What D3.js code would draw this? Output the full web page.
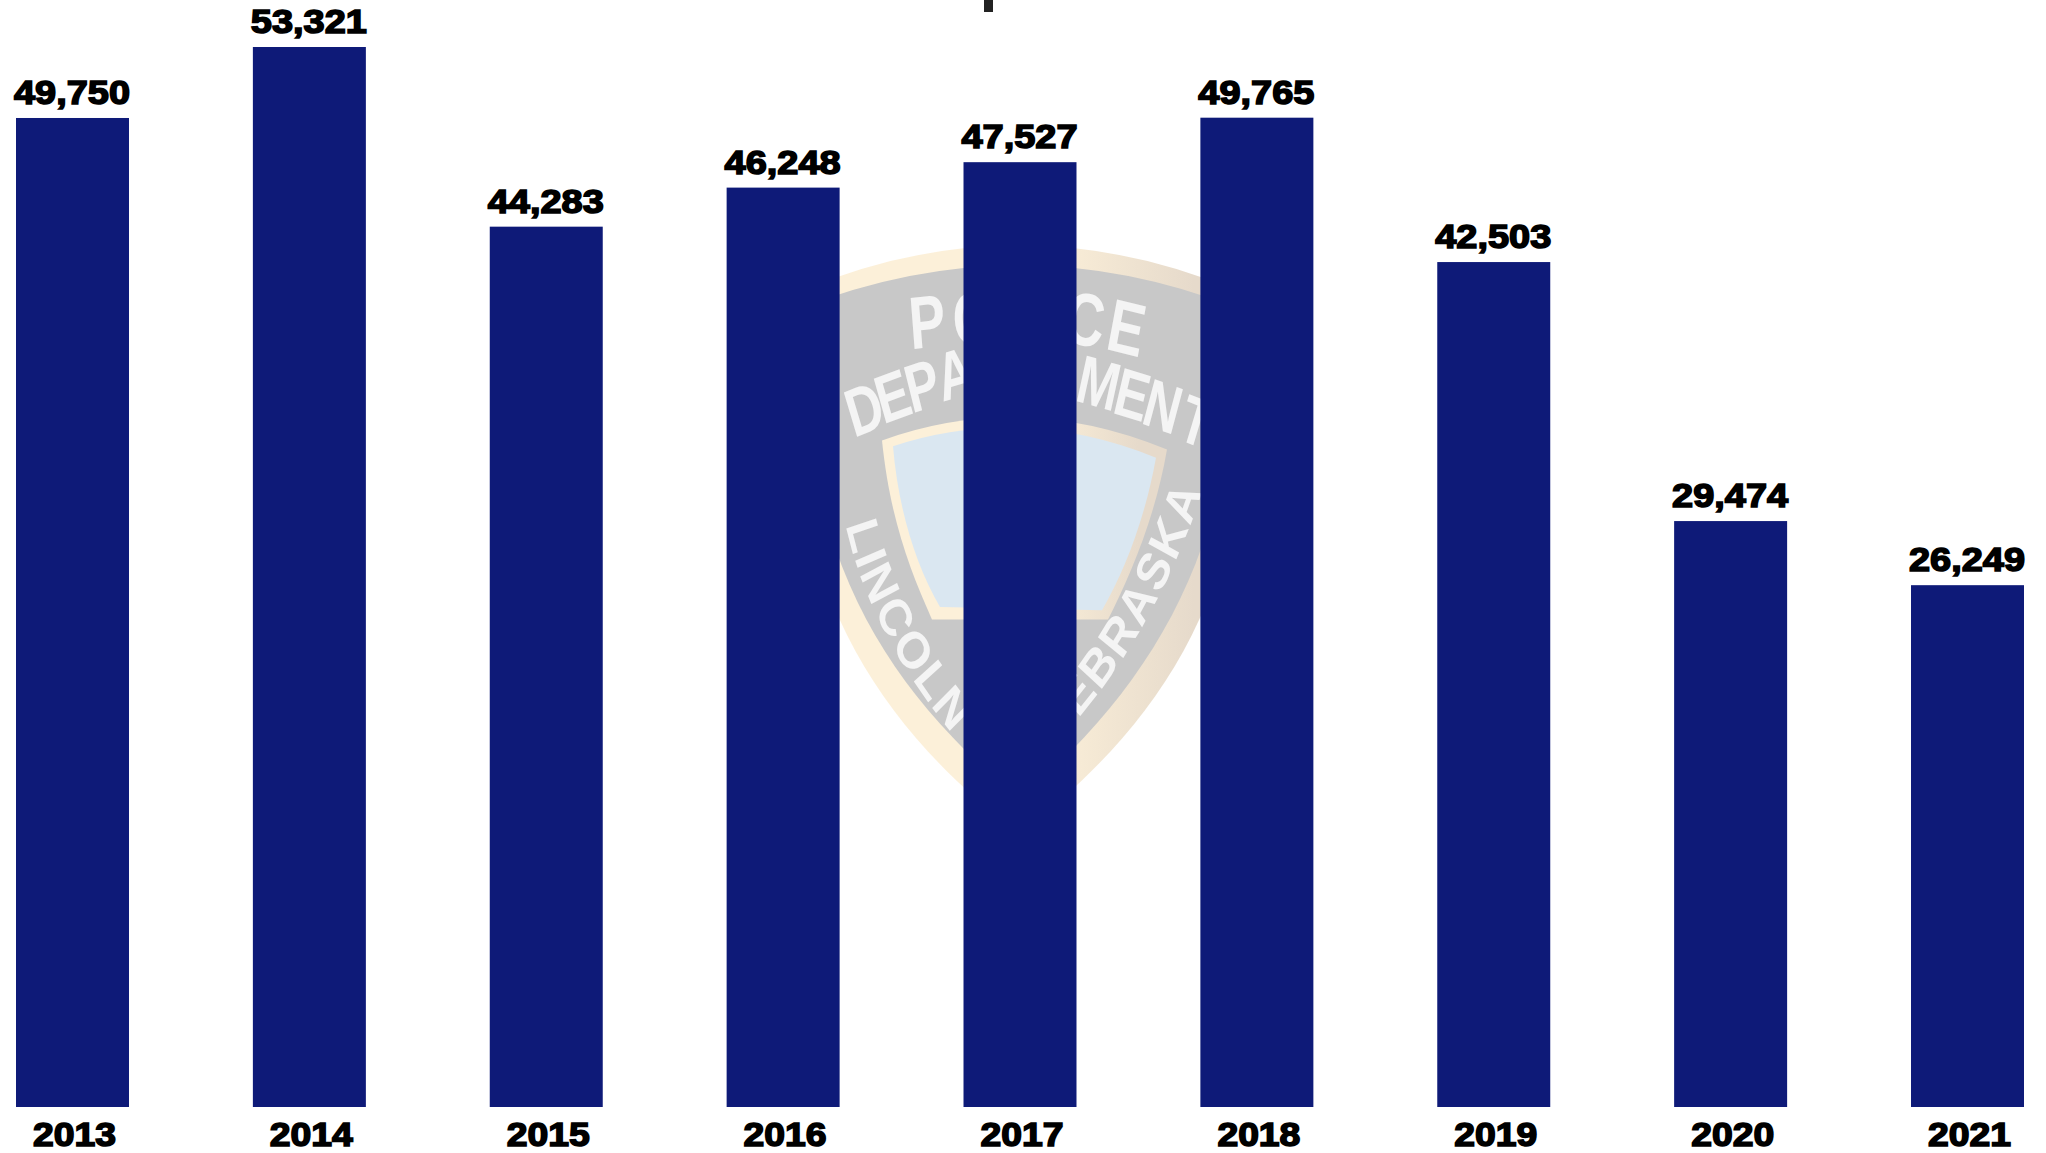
<!DOCTYPE html>
<html>
<head>
<meta charset="utf-8">
<style>
html,body{margin:0;padding:0;background:#fff;overflow:hidden}
svg{display:block}
</style>
<script src="https://cdnjs.cloudflare.com/ajax/libs/d3/7.8.5/d3.min.js"></script>
</head>
<body>
<svg id="chart" width="2046" height="1153"></svg>
<script>
const years = ["2013","2014","2015","2016","2017","2018","2019","2020","2021"];
const values = [49750,53321,44283,46248,47527,49765,42503,29474,26249];
const barColor = "#0e1a78";
const labelFont = "'Liberation Sans', Arial, sans-serif";

const svg = d3.select("#chart");
const x = d3.scaleBand().domain(years).range([16,2024]).paddingInner(0.523).paddingOuter(0);
const y = d3.scaleLinear().domain([0,d3.max(values)]).range([1107,47]);

// Faded shield watermark behind the bars
const logo = svg.append("g").attr("class","logo")
  .attr("transform","translate(0,220) scale(1,1.148) translate(0,-220)");
const defs = svg.append("defs");
const grad = defs.append("linearGradient").attr("id","cream").attr("x1","0").attr("x2","1");
grad.append("stop").attr("offset","0.55").attr("stop-color","#fcf0d9");
grad.append("stop").attr("offset","0.9").attr("stop-color","#e6dacb");
logo.append("path").attr("fill","url(#cream)")
  .attr("d","M800,282 Q1019,202 1238,282 L1238,450 C1215,590 1130,680 1019,755 C908,680 825,590 800,450 Z");
logo.append("path").attr("fill","#c8c8c8")
  .attr("d","M800,297 Q1019,222 1238,297 L1222,440 C1195,560 1120,650 1019,725 C918,650 845,570 815,440 Z");
logo.append("path").attr("fill","url(#cream)")
  .attr("d","M882,412 Q1022,368 1167,420 C1155,480 1130,530 1108,568 L932,568 C910,525 890,480 882,412 Z");
logo.append("path").attr("fill","#dae7f1")
  .attr("d","M893,417 Q1022,380 1156,427 C1145,480 1125,525 1102,560 L940,557 C915,520 898,470 893,417 Z");

const logoLetters = [
  ["P",929,331,-5,47],["O",975,328,-3,47],["C",1082,329,8,47],["E",1122,336,12,47],
  ["D",871,404,-19,43],["E",899,393,-18,43],["P",928,384,-16,43],["A",960,374,-14,43],
  ["M",1094,382,14,43],["E",1127,392,15,43],["N",1157,402,17,43],["T",1190,415,19,43]
];
logo.selectAll("text.top").data(logoLetters).join("text").attr("class","top")
  .attr("transform",d=>`translate(${d[1]},${d[2]}) rotate(${d[3]}) scale(0.84,1)`)
  .attr("text-anchor","middle").attr("font-family",labelFont).attr("font-weight","bold")
  .attr("font-size",d=>d[4]*1.38).attr("fill","#f4f4f4").text(d=>d[0]);

defs.append("path").attr("id","arcL").attr("d","M846,486 C858,536 890,606 970,686");
defs.append("path").attr("id","arcR").attr("d","M1040,690 C1110,630 1175,545 1215,420");
[["LINCOLN","#arcL",2,0],["NEBRASKA","#arcR",2,18]].forEach(t=>{
  logo.append("text").attr("font-family",labelFont).attr("font-weight","bold").attr("font-size",45)
    .attr("fill","#f4f4f4").attr("letter-spacing",t[2])
    .append("textPath").attr("href",t[1]).attr("startOffset",t[3]).text(t[0]);
});

// Descender of the cropped-off title
svg.append("rect").attr("x",984).attr("y",0).attr("width",9).attr("height",12).attr("fill","#222");

svg.append("g").selectAll("rect").data(values).join("rect")
  .attr("x",(d,i)=>x(years[i])).attr("y",d=>y(d))
  .attr("width",x.bandwidth()).attr("height",d=>y(0)-y(d)).attr("fill",barColor);

svg.append("g").selectAll("text").data(values).join("text")
  .attr("x",(d,i)=>x(years[i])+x.bandwidth()/2-0.5).attr("y",d=>y(d)-14)
  .attr("text-anchor","middle").attr("font-family",labelFont).attr("font-weight","bold")
  .attr("font-size",34).attr("fill","#000").attr("stroke","#000").attr("stroke-width",1.6)
  .attr("textLength",116).attr("lengthAdjust","spacingAndGlyphs")
  .text(d=>d3.format(",")(d));

const axis = svg.append("g").attr("transform","translate(2,1107)")
  .call(d3.axisBottom(x).tickSize(0).tickPadding(0));
axis.select(".domain").remove();
axis.selectAll("text").attr("y",39).attr("dy",0)
  .attr("font-family",labelFont).attr("font-weight","bold").attr("font-size",34)
  .attr("fill","#000").attr("stroke","#000").attr("stroke-width",1.6)
  .attr("textLength",83).attr("lengthAdjust","spacingAndGlyphs");
</script>
</body>
</html>
